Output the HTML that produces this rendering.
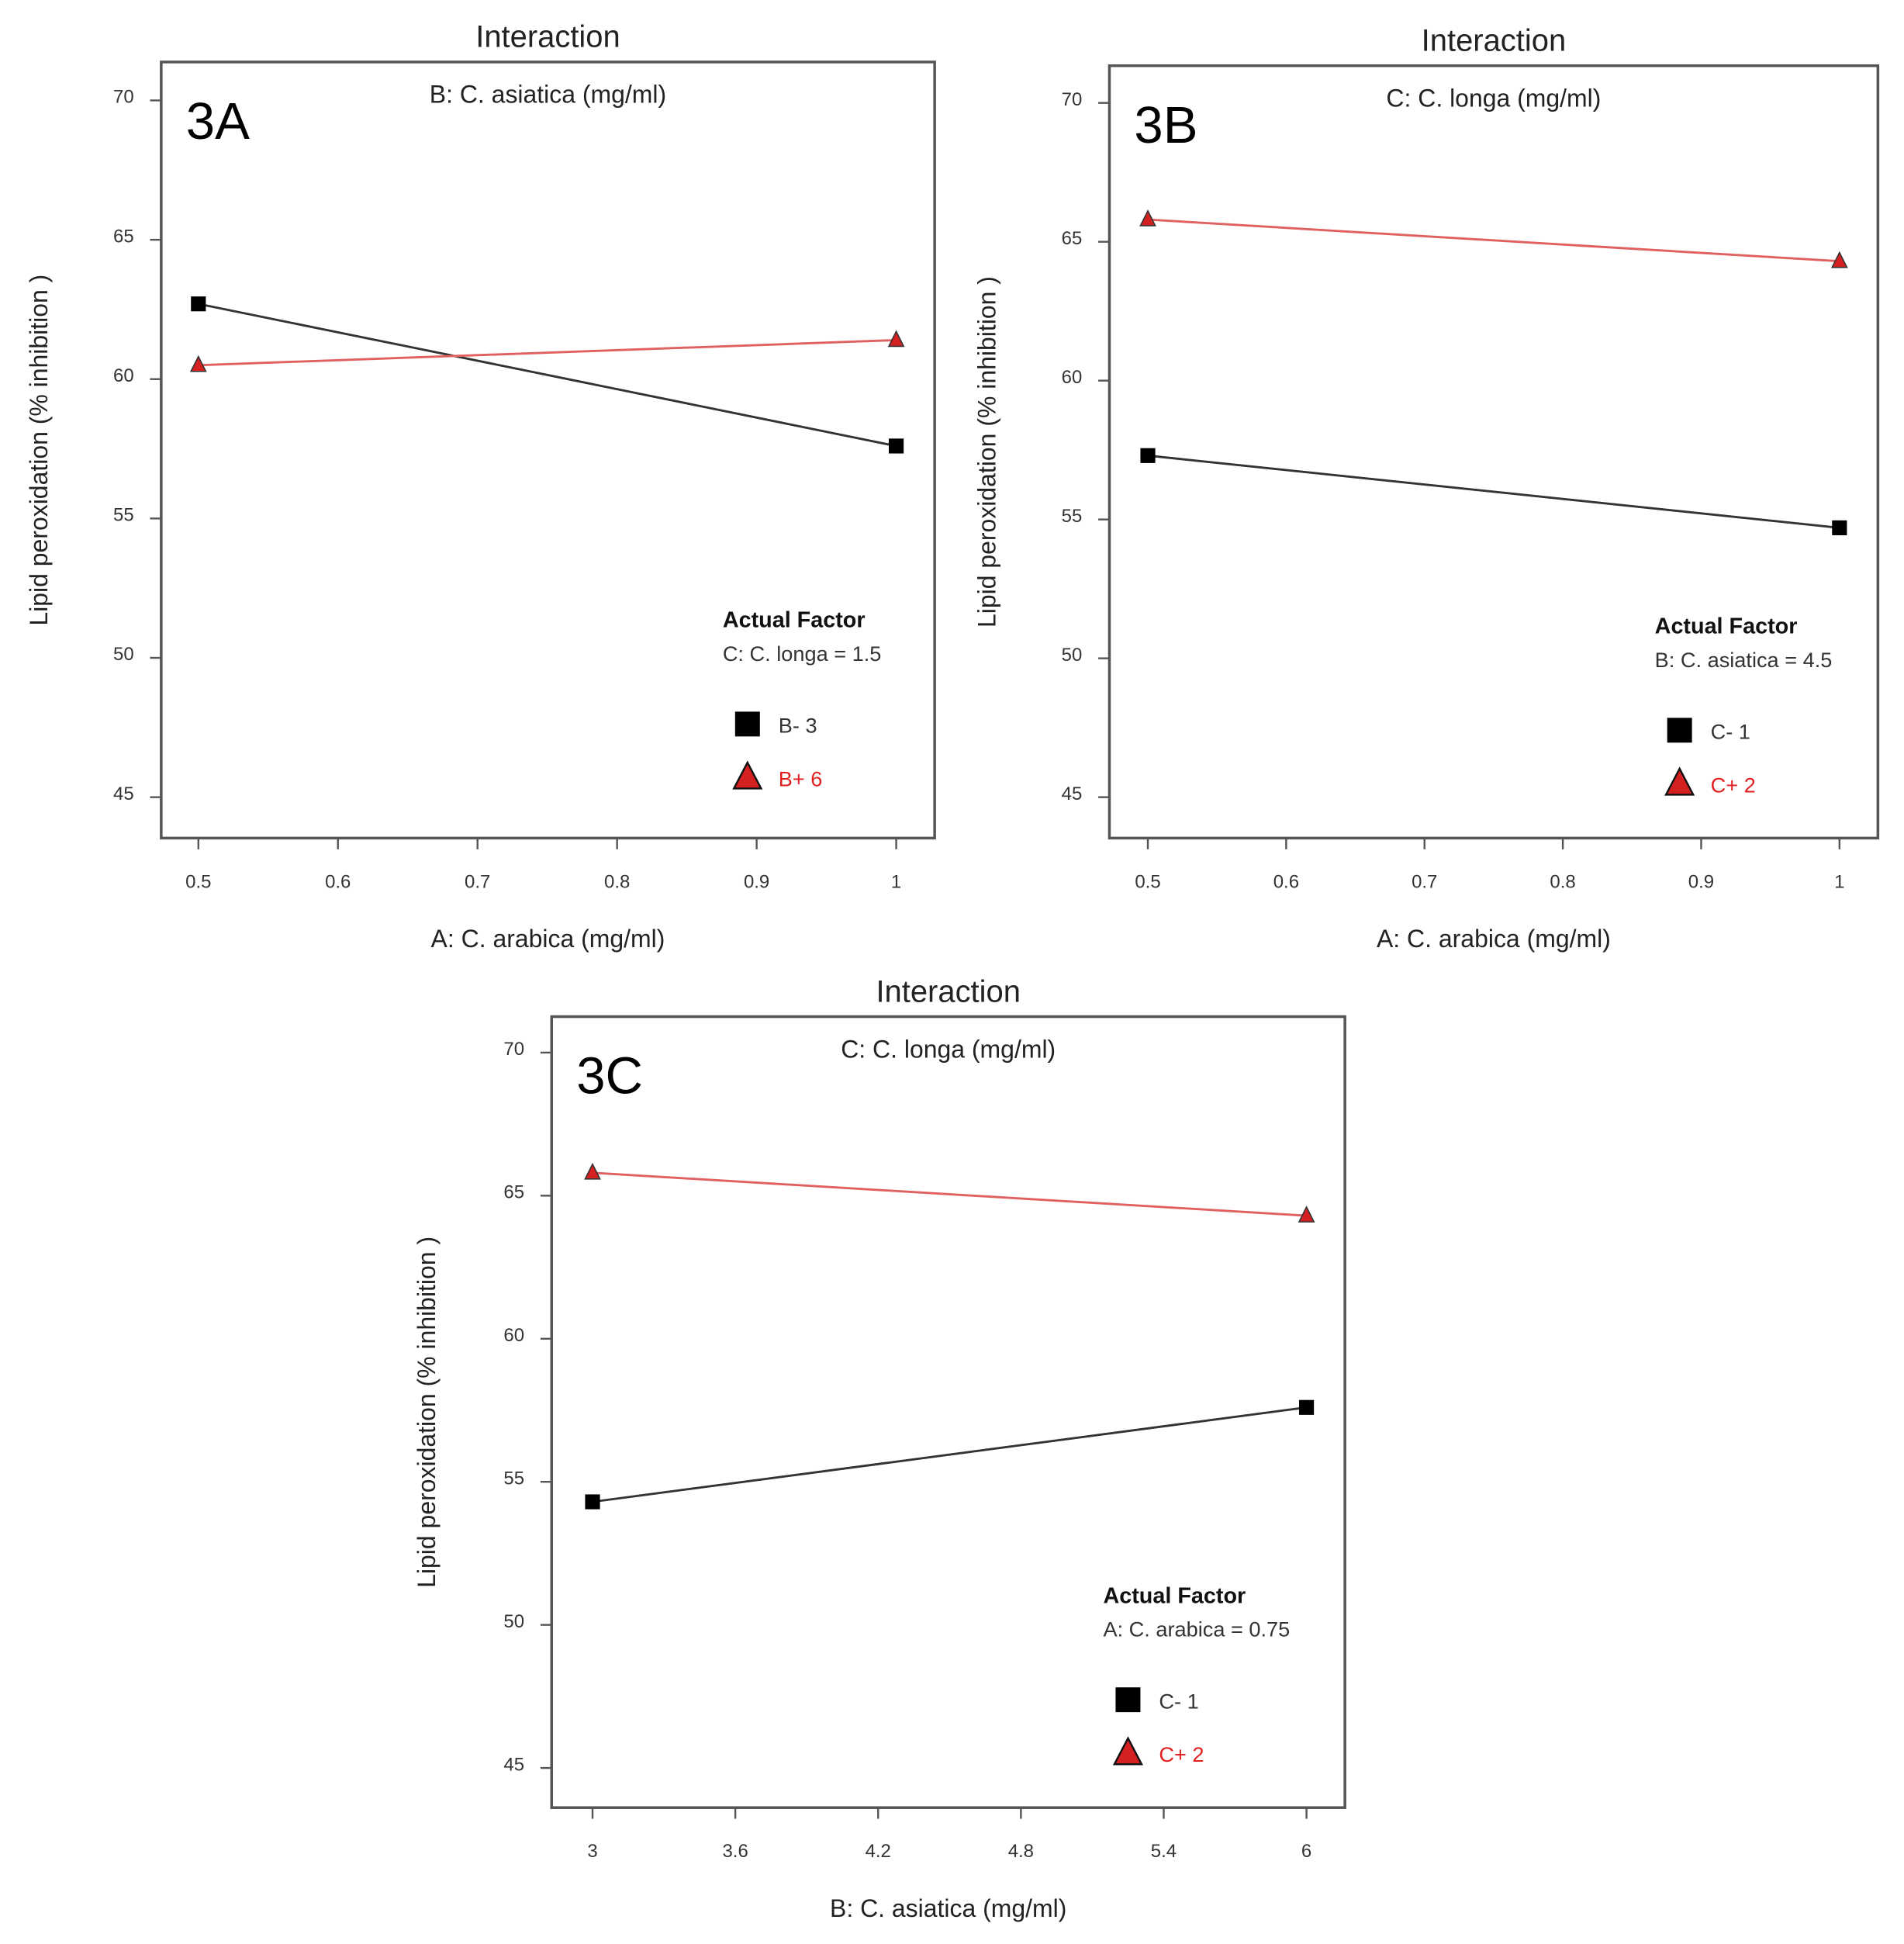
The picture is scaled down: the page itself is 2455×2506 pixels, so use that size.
<!DOCTYPE html>
<html><head><meta charset="utf-8"><style>
html,body{margin:0;padding:0;background:#fff;}
svg{display:block;font-family:"Liberation Sans",sans-serif;}
</style></head><body>
<svg id="chart" width="2455" height="2506" viewBox="0 0 1536 1568" xmlns="http://www.w3.org/2000/svg"></svg>
<script>
// Panel 3A data
const aXTicks = [0.5, 0.6, 0.7, 0.8, 0.9, 1];
const aX = [0.5, 1];
const aLow = [62.7, 57.6];
const aHigh = [60.5, 61.4];
// Panel 3B data
const bXTicks = [0.5, 0.6, 0.7, 0.8, 0.9, 1];
const bX = [0.5, 1];
const bLow = [57.3, 54.7];
const bHigh = [65.8, 64.3];
// Panel 3C data
const cXTicks = [3, 3.6, 4.2, 4.8, 5.4, 6];
const cX = [3, 6];
const cLow = [54.3, 57.6];
const cHigh = [65.8, 64.3];
const yTicks = [45, 50, 55, 60, 65, 70];

const svg = document.getElementById('chart');
const NS = 'http://www.w3.org/2000/svg';
function mk(tag, attrs, parent, text) {
  const e = document.createElementNS(NS, tag);
  for (const k in attrs) e.setAttribute(k, attrs[k]);
  if (text !== undefined) e.textContent = text;
  (parent || svg).appendChild(e);
  return e;
}

function panel(p) {
  const g = mk('g', {});
  
  
  const xs = v => p.x0 + (v - p.xmin) / (p.xmax - p.xmin) * (p.x1 - p.x0);
  const ys = v => p.y45 + (v - 45) / 25 * (p.y70 - p.y45);
  const box = mk('rect', {x: p.bx0, y: p.by0, width: p.bx1 - p.bx0, height: p.by1 - p.by0, fill: 'none', stroke: '#555', 'stroke-width': 2.2}, g);
  
  
  const t = mk('text', {x: (p.bx0 + p.bx1) / 2, y: p.by0 - 12, 'font-size': 25, 'text-anchor': 'middle', fill: '#222'}, g, 'Interaction');
  
  
  const st = mk('text', {x: (p.bx0 + p.bx1) / 2, y: p.by0 + 33, 'font-size': 20, 'text-anchor': 'middle', fill: '#222'}, g, p.sub);
  
  
  const lab = mk('text', {x: p.bx0 + 20, y: p.by0 + 62, 'font-size': 42, fill: '#000'}, g, p.id);
  
  
  yTicks.forEach(v => {
    mk('line', {x1: p.bx0 - 9, x2: p.bx0, y1: ys(v), y2: ys(v), stroke: '#555', 'stroke-width': 1.5}, g);
    const tl = mk('text', {x: p.bx0 - 22, y: ys(v) + 2, 'font-size': 15, 'text-anchor': 'end', fill: '#333'}, g, String(v));
    
    
  });
  p.xticks.forEach(v => {
    mk('line', {x1: xs(v), x2: xs(v), y1: p.by1, y2: p.by1 + 9, stroke: '#555', 'stroke-width': 1.5}, g);
    const tl = mk('text', {x: xs(v), y: p.by1 + 40, 'font-size': 15, 'text-anchor': 'middle', fill: '#333'}, g, String(v));
    
    
  });
  const xl = mk('text', {x: (p.bx0 + p.bx1) / 2, y: p.by1 + 88, 'font-size': 20, 'text-anchor': 'middle', fill: '#222'}, g, p.xlabel);
  
  
  const yc = (p.by0 + p.by1) / 2;
  const yl = mk('text', {x: p.ylx, y: yc, 'font-size': 20, 'text-anchor': 'middle', fill: '#222', transform: 'rotate(-90 ' + p.ylx + ' ' + yc + ')'}, g, 'Lipid peroxidation (% inhibition )');
  
  
  const lowL = mk('polyline', {points: p.xv.map((x, i) => xs(x) + ',' + ys(p.low[i])).join(' '), fill: 'none', stroke: '#333', 'stroke-width': 1.8}, g);
  
  
  const hiL = mk('polyline', {points: p.xv.map((x, i) => xs(x) + ',' + ys(p.high[i])).join(' '), fill: 'none', stroke: '#e06060', 'stroke-width': 1.8}, g);
  
  
  p.xv.forEach((x, i) => {
    const sq = mk('rect', {x: xs(x) - 6, y: ys(p.low[i]) - 6, width: 12, height: 12, fill: '#000'}, g);
    
    
    const cx = xs(x), cy = ys(p.high[i]);
    const tr = mk('polygon', {points: `${cx},${cy - 7} ${cx - 6},${cy + 5} ${cx + 6},${cy + 5}`, fill: '#d42020', stroke: '#333', 'stroke-width': 1}, g);
    
    
  });
  const lg = mk('g', {}, g);
  
  
  mk('text', {x: p.lx, y: p.ly, 'font-size': 18, 'font-weight': 'bold', fill: '#111'}, lg, 'Actual Factor');
  mk('text', {x: p.lx, y: p.ly + 27, 'font-size': 17, fill: '#333'}, lg, p.factor);
  const mx = p.lx + 20;
  mk('rect', {x: mx - 10, y: p.ly + 68, width: 20, height: 20, fill: '#000'}, lg);
  const e1 = mk('text', {x: mx + 25, y: p.ly + 85, 'font-size': 17, fill: '#333'}, lg, p.lowLab);
  
  
  const ty = p.ly + 121;
  mk('polygon', {points: `${mx},${ty - 12} ${mx - 11},${ty + 9} ${mx + 11},${ty + 9}`, fill: '#d42020', stroke: '#111', 'stroke-width': 1.5}, lg);
  const e2 = mk('text', {x: mx + 25, y: ty + 7, 'font-size': 17, fill: '#e02020'}, lg, p.highLab);
  
  
}

panel({id: '3A', bx0: 130, bx1: 754, by0: 50, by1: 676, x0: 160, x1: 723, xmin: 0.5, xmax: 1, y70: 81, y45: 643,
  xticks: aXTicks, xv: aX, low: aLow, high: aHigh, sub: 'B: C. asiatica  (mg/ml)', xlabel: 'A: C. arabica (mg/ml)', ylx: 38,
  lx: 583, ly: 506, factor: 'C: C. longa = 1.5', lowLab: 'B- 3', highLab: 'B+ 6'});
panel({id: '3B', bx0: 895, bx1: 1515, by0: 53, by1: 676, x0: 926, x1: 1484, xmin: 0.5, xmax: 1, y70: 83, y45: 643,
  xticks: bXTicks, xv: bX, low: bLow, high: bHigh, sub: 'C: C. longa (mg/ml)', xlabel: 'A: C. arabica (mg/ml)', ylx: 803,
  lx: 1335, ly: 511, factor: 'B: C. asiatica = 4.5', lowLab: 'C- 1', highLab: 'C+ 2'});
panel({id: '3C', bx0: 445, bx1: 1085, by0: 820, by1: 1458, x0: 478, x1: 1054, xmin: 3, xmax: 6, y70: 849, y45: 1426,
  xticks: cXTicks, xv: cX, low: cLow, high: cHigh, sub: 'C: C. longa (mg/ml)', xlabel: 'B: C. asiatica  (mg/ml)', ylx: 351,
  lx: 890, ly: 1293, factor: 'A: C. arabica = 0.75', lowLab: 'C- 1', highLab: 'C+ 2'});
</script>
</body></html>
